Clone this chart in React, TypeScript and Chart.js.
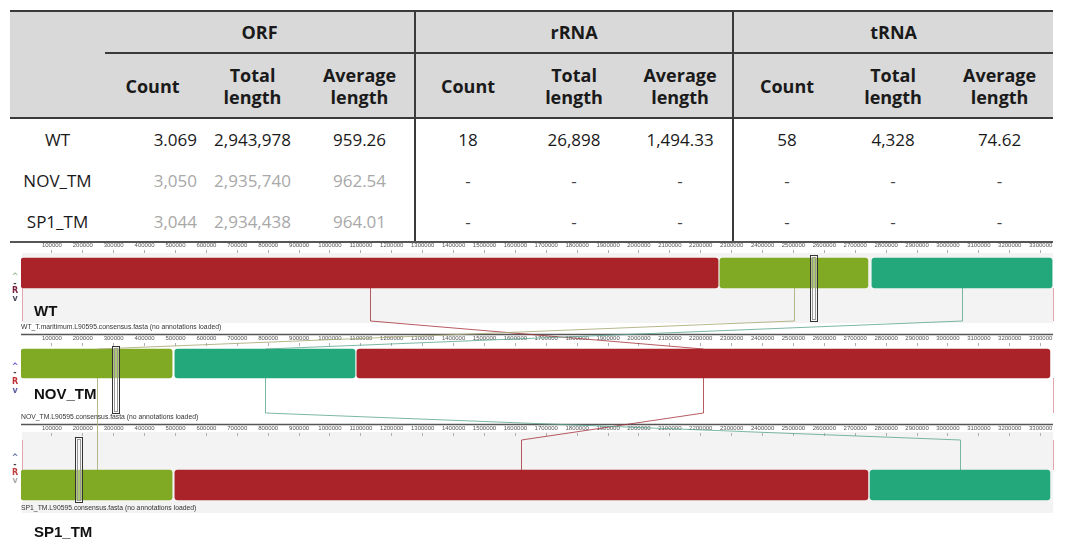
import React, { useEffect, useRef } from 'react';
import { Chart, registerables } from 'chart.js';

Chart.register(...registerables);

// ---------------- table data ----------------
const groupHeaders = ['ORF', 'rRNA', 'tRNA'];
const subHeaders = ['Count', 'Total\nlength', 'Average\nlength'];
const rowLabels = ['WT', 'NOV_TM', 'SP1_TM'];
const wtValues = ['3.069', '2,943,978', '959.26', '18', '26,898', '1,494.33', '58', '4,328', '74.62'];
const novValues = ['3,050', '2,935,740', '962.54', '-', '-', '-', '-', '-', '-'];
const sp1Values = ['3,044', '2,934,438', '964.01', '-', '-', '-', '-', '-', '-'];
const tableRows = [wtValues, novValues, sp1Values];

// ---------------- genome alignment data ----------------
const genomes = ['WT', 'NOV_TM', 'SP1_TM'];
const fileNames = [
  'WT_T.maritimum.L90595.consensus.fasta (no annotations loaded)',
  'NOV_TM.L90595.consensus.fasta (no annotations loaded)',
  'SP1_TM.L90595.consensus.fasta (no annotations loaded)',
];
const lcbNames = ['LCB 1', 'LCB 2', 'LCB 3'];
// blocks per genome, in LCB order [LCB1 (red), LCB2 (olive), LCB3 (teal)]
const wtBlocks = [[0, 2256000], [2262000, 2741000], [2754000, 3337000]];
const novBlocks = [[1087000, 3330000], [0, 489000], [498000, 1081000]];
const sp1Blocks = [[498000, 2741000], [0, 489000], [2748000, 3330000]];
const genomeBlocks = [wtBlocks, novBlocks, sp1Blocks];
const cursorPositions = [2565000, 309000, 188000];
const rulerTicks = [
  100000, 200000, 300000, 400000, 500000, 600000, 700000, 800000, 900000, 1000000,
  1100000, 1200000, 1300000, 1400000, 1500000, 1600000, 1700000, 1800000, 1900000, 2000000,
  2100000, 2200000, 2300000, 2400000, 2500000, 2600000, 2700000, 2800000, 2900000, 3000000,
  3100000, 3200000, 3300000,
];
const axisMax = 3340000;

// ---------------- styles ----------------
const lcbColors = ['#a92328', '#80aa23', '#23a87b'];
const lcbLineColors = ['rgba(165,50,60,0.8)', 'rgba(170,170,120,0.85)', 'rgba(90,165,145,0.8)'];
const TRACKS = [
  { top: 240, height: 93, padBottom: 40, bar: 30, leadAbove: 0, leadBelow: 33, rulerLine: false, leftEdge: true },
  { top: 333, height: 90, padBottom: 42, bar: 29, leadAbove: 0, leadBelow: 35, rulerLine: true, leftEdge: false },
  { top: 423, height: 124, padBottom: 13, bar: 30, leadAbove: 30, leadBelow: 0, rulerLine: true, leftEdge: true },
];

const charts: any[] = [null, null, null];

function barEdges(i: number) {
  const c = charts[i];
  const t = TRACKS[i];
  const yc = c.scales.y.getPixelForValue(0);
  return { top: t.top + yc - t.bar / 2, bottom: t.top + yc + t.bar / 2 };
}

const decorPlugin = {
  id: 'mauveDecor',
  beforeDatasetsDraw(chart: any, _args: any, opts: any) {
    const i = opts.track;
    const t = TRACKS[i];
    const ctx = chart.ctx;
    const { left, right } = chart.chartArea;
    ctx.save();
    if (t.rulerLine) {
      ctx.strokeStyle = '#555';
      ctx.lineWidth = 1.5;
      ctx.beginPath();
      ctx.moveTo(left, 1.5);
      ctx.lineTo(right, 1.5);
      ctx.stroke();
    }
    const yc = chart.scales.y.getPixelForValue(0);
    const top = yc - t.bar / 2;
    const bottom = yc + t.bar / 2;
    ctx.strokeStyle = '#e4a4ae';
    ctx.lineWidth = 1;
    ctx.beginPath();
    if (t.leadBelow) {
      ctx.moveTo(right + 0.5, bottom);
      ctx.lineTo(right + 0.5, bottom + t.leadBelow);
    }
    if (t.leadAbove) {
      ctx.moveTo(right + 0.5, top - t.leadAbove);
      ctx.lineTo(right + 0.5, top);
    }
    if (t.leftEdge) {
      ctx.moveTo(left + 1.5, top - t.leadAbove);
      ctx.lineTo(left + 1.5, bottom + t.leadBelow);
    }
    ctx.stroke();
    ctx.restore();
  },
  afterDatasetsDraw(chart: any, _args: any, opts: any) {
    const i = opts.track;
    const t = TRACKS[i];
    const ctx = chart.ctx;
    const x = chart.scales.x;
    ctx.save();
    if (charts.every((c) => c)) {
      for (let g = 0; g < genomes.length - 1; g++) {
        const e0 = barEdges(g);
        const e1 = barEdges(g + 1);
        for (let k = 0; k < lcbNames.length; k++) {
          const a = genomeBlocks[g][k];
          const b = genomeBlocks[g + 1][k];
          const xa = Math.round(x.getPixelForValue((a[0] + a[1]) / 2)) + 0.5;
          const xb = Math.round(x.getPixelForValue((b[0] + b[1]) / 2)) + 0.5;
          ctx.strokeStyle = lcbLineColors[k];
          ctx.lineWidth = 1;
          ctx.beginPath();
          ctx.moveTo(xa, e0.bottom - t.top);
          ctx.lineTo(xa, e0.bottom + TRACKS[g].leadBelow - t.top);
          ctx.lineTo(xb, e1.top - TRACKS[g + 1].leadAbove - t.top);
          ctx.lineTo(xb, e1.top - t.top);
          ctx.stroke();
        }
      }
    }
    // position cursor
    const yc = chart.scales.y.getPixelForValue(0);
    const top = yc - t.bar / 2 - t.leadAbove - 3;
    const bottom = t.leadBelow ? yc + t.bar / 2 + t.leadBelow : yc + t.bar / 2 + 2;
    const xc = Math.round(x.getPixelForValue(cursorPositions[i]));
    ctx.fillStyle = 'rgba(255,255,255,0.35)';
    ctx.fillRect(xc - 3.5, top, 7, bottom - top);
    ctx.strokeStyle = '#333';
    ctx.lineWidth = 1;
    ctx.strokeRect(xc - 3.5, top + 0.5, 7, bottom - top);
    ctx.strokeStyle = '#999';
    ctx.strokeRect(xc - 1.5, top + 2.5, 3, bottom - top - 4);
    ctx.restore();
  },
};

function makeConfig(i: number): any {
  const t = TRACKS[i];
  return {
    type: 'bar',
    data: {
      labels: [genomes[i]],
      datasets: lcbNames.map((name, k) => ({
        label: name,
        data: [genomeBlocks[i][k]],
        backgroundColor: lcbColors[k],
        borderRadius: 3,
        borderSkipped: false,
        barThickness: t.bar,
        grouped: false,
      })),
    },
    options: {
      indexAxis: 'y',
      responsive: false,
      maintainAspectRatio: false,
      animation: false,
      events: [],
      layout: { padding: { left: 21, right: 17, top: 0, bottom: t.padBottom } },
      plugins: {
        legend: { display: false },
        tooltip: { enabled: false },
        title: { display: false },
        mauveDecor: { track: i },
      },
      scales: {
        x: {
          type: 'linear',
          position: 'top',
          min: 0,
          max: axisMax,
          afterBuildTicks: (axis: any) => {
            axis.ticks = rulerTicks.map((v) => ({ value: v }));
          },
          afterFit: (axis: any) => {
            axis.height = 13;
          },
          ticks: {
            autoSkip: false,
            maxRotation: 0,
            minRotation: 0,
            padding: 1,
            color: '#555',
            font: { family: "'Liberation Sans', Arial, sans-serif", size: 6 },
            callback: (v: any) => String(v),
          },
          grid: { drawOnChartArea: false, drawTicks: true, tickLength: 3, color: '#b0b0b0' },
          border: { display: false },
        },
        y: { type: 'category', display: false },
      },
    },
    plugins: [decorPlugin],
  };
}

// ---------------- table component ----------------
const LINE = '2px solid #3a3a3a';
const FONT = "'Open Sans', 'Noto Sans', sans-serif";

function DataTable() {
  const headBase: any = {
    fontFamily: FONT,
    fontWeight: 700,
    fontSize: 18,
    color: '#1a1a1a',
    padding: 0,
    textAlign: 'center',
    verticalAlign: 'middle',
    background: '#d9d9d9',
    lineHeight: '22px',
    whiteSpace: 'pre-line',
  };
  const cellBase: any = {
    fontFamily: FONT,
    fontSize: 17,
    padding: 0,
    textAlign: 'center',
    verticalAlign: 'middle',
    lineHeight: '22px',
  };
  const widths = [95, 95, 105, 110, 105, 108, 105, 107, 106, 107];
  return (
    <table
      style={{
        position: 'absolute',
        left: 10,
        top: 10,
        width: 1043,
        borderCollapse: 'collapse',
        tableLayout: 'fixed',
        background: '#fff',
      }}
    >
      <colgroup>
        {widths.map((w, i) => (
          <col key={i} style={{ width: w }} />
        ))}
      </colgroup>
      <tbody>
        <tr style={{ height: 42 }}>
          <td rowSpan={2} style={{ ...headBase, borderTop: LINE, borderBottom: LINE }} />
          {groupHeaders.map((g, gi) => (
            <td
              key={g}
              colSpan={3}
              style={{ ...headBase, borderTop: LINE, borderBottom: LINE, borderLeft: gi > 0 ? LINE : undefined }}
            >
              {g}
            </td>
          ))}
        </tr>
        <tr style={{ height: 65 }}>
          {groupHeaders.map((g, gi) =>
            subHeaders.map((s, si) => (
              <td
                key={g + si}
                style={{ ...headBase, borderBottom: LINE, borderLeft: gi > 0 && si === 0 ? LINE : undefined }}
              >
                {s}
              </td>
            ))
          )}
        </tr>
        {tableRows.map((row, ri) => (
          <tr key={ri} style={{ height: ri === 2 ? 40 : 42 }}>
            <td
              style={{
                ...cellBase,
                color: '#1a1a1a',
                borderBottom: ri === 2 ? '2px solid #555' : undefined,
              }}
            >
              {rowLabels[ri]}
            </td>
            {row.map((v, ci) => (
              <td
                key={ci}
                style={{
                  ...cellBase,
                  textAlign: ci === 0 ? 'right' : 'center',
                  paddingRight: ci === 0 ? 3 : 0,
                  color: v === '-' ? '#444' : ri > 0 ? '#a8a8a8' : '#1a1a1a',
                  borderLeft: ci === 3 || ci === 6 ? LINE : undefined,
                  borderBottom: ri === 2 ? '2px solid #555' : undefined,
                }}
              >
                {v}
              </td>
            ))}
          </tr>
        ))}
      </tbody>
    </table>
  );
}

// ---------------- track decorations (HTML text) ----------------
const trackLabelTops = [302, 385, 523];
const fileNameTops = [323, 413, 504];
const controlGlyphs = [
  [
    { ch: '^', y: 277, c: '#9cbf9c' },
    { ch: '-', y: 284, c: '#444' },
    { ch: 'R', y: 291, c: '#7a2040' },
    { ch: 'v', y: 299, c: '#4a4a5a' },
  ],
  [
    { ch: '^', y: 367, c: '#6a5ad0' },
    { ch: '-', y: 373, c: '#444' },
    { ch: 'R', y: 382, c: '#c03030' },
    { ch: 'v', y: 391, c: '#5a5aa0' },
  ],
  [
    { ch: '^', y: 458, c: '#6070a0' },
    { ch: '-', y: 465, c: '#444' },
    { ch: 'R', y: 473, c: '#c04040' },
    { ch: 'v', y: 481, c: '#aaaaaa' },
  ],
];

export default function App() {
  const ref0 = useRef<HTMLCanvasElement>(null);
  const ref1 = useRef<HTMLCanvasElement>(null);
  const ref2 = useRef<HTMLCanvasElement>(null);

  useEffect(() => {
    const refs = [ref0, ref1, ref2];
    refs.forEach((r, i) => {
      if (r.current) charts[i] = new Chart(r.current, makeConfig(i));
    });
    charts.forEach((c) => c && c.draw());
    return () => {
      charts.forEach((c, i) => {
        if (c) c.destroy();
        charts[i] = null;
      });
    };
  }, []);

  const refs = [ref0, ref1, ref2];

  return (
    <div
      style={{
        position: 'absolute',
        left: 0,
        top: 0,
        width: 1070,
        height: 547,
        background: '#fff',
        overflow: 'hidden',
      }}
    >
      <DataTable />
      {/* panel backgrounds */}
      <div style={{ position: 'absolute', left: 22, top: 253, width: 1031, height: 70, background: '#f3f3f3' }} />
      <div style={{ position: 'absolute', left: 22, top: 432, width: 1031, height: 81, background: '#f3f3f3' }} />
      {TRACKS.map((t, i) => (
        <canvas
          key={i}
          ref={refs[i]}
          width={1070}
          height={t.height}
          style={{ position: 'absolute', left: 0, top: t.top, width: 1070, height: t.height }}
        />
      ))}
      {genomes.map((g, i) => (
        <div
          key={g}
          style={{
            position: 'absolute',
            left: 34,
            top: trackLabelTops[i],
            fontFamily: "'Liberation Sans', Arial, sans-serif",
            fontWeight: 700,
            fontSize: 15,
            lineHeight: '17px',
            color: '#111',
          }}
        >
          {g}
        </div>
      ))}
      {fileNames.map((f, i) => (
        <div
          key={f}
          style={{
            position: 'absolute',
            left: 21,
            top: fileNameTops[i],
            fontFamily: "'Liberation Sans', Arial, sans-serif",
            fontSize: 6.8,
            lineHeight: '8px',
            color: '#333',
            whiteSpace: 'nowrap',
          }}
        >
          {f}
        </div>
      ))}
      {controlGlyphs.map((list, i) =>
        list.map((gl, j) => (
          <div
            key={i + '-' + j}
            style={{
              position: 'absolute',
              left: 10,
              width: 10,
              top: gl.y - 5,
              textAlign: 'center',
              fontFamily: "'DejaVu Sans', sans-serif",
              fontWeight: 700,
              fontSize: 8,
              lineHeight: '10px',
              color: gl.c,
            }}
          >
            {gl.ch}
          </div>
        ))
      )}
    </div>
  );
}
